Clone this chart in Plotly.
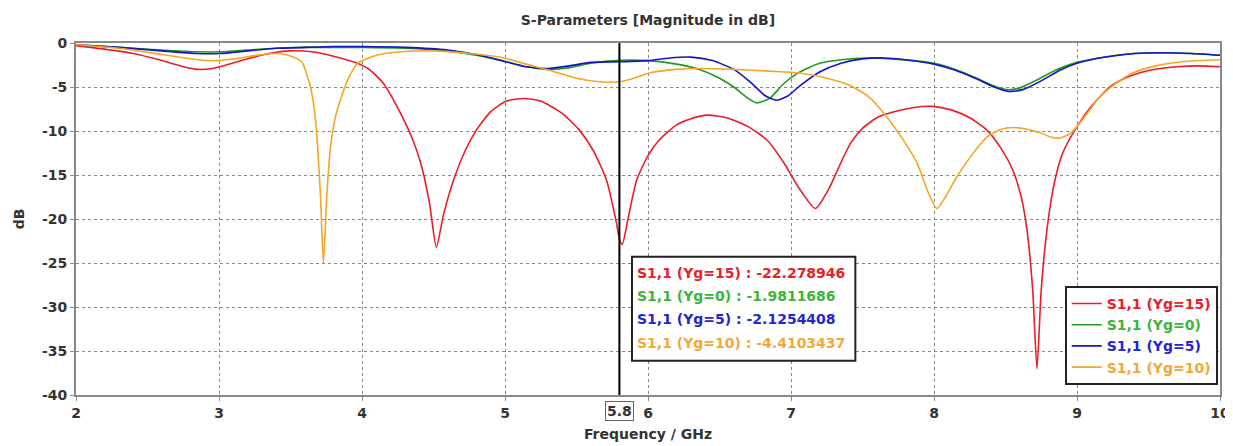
import plotly.graph_objects as go

# ---------------- data ----------------
freq_yg15 = [2.0, 2.2, 2.4, 2.6, 2.75, 2.85, 2.95, 3.05, 3.2, 3.35, 3.5, 3.65, 3.8, 3.95, 4.05, 4.15,
             4.27, 4.35, 4.41, 4.47, 4.52, 4.57, 4.64, 4.72, 4.80, 4.90, 5.01, 5.13, 5.25, 5.4, 5.52,
             5.62, 5.71, 5.78, 5.80, 5.82, 5.86, 5.92, 6.0, 6.08, 6.2, 6.3, 6.42, 6.55, 6.7, 6.83,
             6.95, 7.06, 7.17, 7.27, 7.34, 7.42, 7.5, 7.6, 7.7, 7.85, 7.99, 8.12, 8.25,
             8.37, 8.47, 8.55, 8.61, 8.65, 8.69, 8.72, 8.75, 8.79, 8.84, 8.90, 9.0, 9.1, 9.23, 9.35,
             9.51, 9.7, 9.85, 10.0]
s11_yg15 = [-0.3, -0.7, -1.2, -2.0, -2.7, -3.0, -2.9, -2.5, -1.8, -1.2, -0.9, -1.0, -1.5, -2.2, -3.0, -4.6,
            -8.0, -10.8, -13.6, -18.0, -23.2, -19.5, -15.6, -12.3, -9.9, -7.8, -6.6, -6.3, -6.6, -8.0, -9.9,
            -12.3, -15.6, -20.5, -22.28, -22.9, -20.0, -15.6, -12.8, -11.0, -9.3, -8.6, -8.2, -8.5, -9.5, -11.0,
            -13.6, -16.6, -18.8, -16.4, -13.9, -11.3, -9.7, -8.5, -7.9, -7.35, -7.2, -7.6, -8.5,
            -9.9, -12.0, -14.4, -17.5, -21.2, -28.0, -37.0, -28.0, -21.2, -16.0, -12.5, -9.5, -7.2, -5.0, -3.9,
            -3.1, -2.7, -2.6, -2.7]

freq_yg0 = [2.0, 2.3, 2.6, 2.85, 3.0, 3.2, 3.4, 3.6, 3.8, 4.0, 4.3, 4.6, 4.8, 5.0, 5.15, 5.3, 5.45, 5.6,
            5.8, 6.0, 6.2, 6.36, 6.5, 6.6, 6.7, 6.76, 6.85, 6.95, 7.05, 7.2, 7.35, 7.53, 7.7, 7.85, 8.0,
            8.15, 8.3, 8.42, 8.51, 8.6, 8.72, 8.85, 9.0, 9.2, 9.4, 9.6, 9.8, 10.0]
s11_yg0 = [-0.2, -0.5, -0.8, -1.0, -1.0, -0.8, -0.6, -0.5, -0.5, -0.5, -0.6, -0.9, -1.4, -2.1, -2.7, -3.0,
           -2.8, -2.3, -1.98, -2.0, -2.4, -3.0, -4.0, -5.0, -6.3, -6.8, -6.3, -4.6, -3.4, -2.3, -1.9, -1.7,
           -1.8, -2.0, -2.3, -3.0, -4.0, -4.9, -5.3, -5.1, -4.2, -3.1, -2.2, -1.6, -1.2, -1.1, -1.2, -1.4]

freq_yg5 = [2.0, 2.3, 2.6, 2.85, 3.0, 3.2, 3.4, 3.6, 3.8, 4.0, 4.3, 4.6, 4.8, 5.0, 5.15, 5.3, 5.45, 5.6,
            5.8, 6.0, 6.15, 6.3, 6.45, 6.6, 6.72, 6.82, 6.9, 6.98, 7.06, 7.2, 7.35, 7.5, 7.65, 7.8, 8.0,
            8.15, 8.3, 8.42, 8.52, 8.62, 8.75, 8.88, 9.0, 9.2, 9.4, 9.6, 9.8, 10.0]
s11_yg5 = [-0.2, -0.5, -0.9, -1.2, -1.2, -0.9, -0.6, -0.5, -0.4, -0.4, -0.5, -0.8, -1.3, -2.1, -2.7, -2.9,
           -2.6, -2.2, -2.13, -2.0, -1.7, -1.6, -2.0, -3.0, -4.5, -6.0, -6.5, -6.0, -4.9, -3.3, -2.3, -1.8,
           -1.7, -1.9, -2.4, -3.1, -4.1, -5.0, -5.5, -5.3, -4.3, -3.1, -2.3, -1.6, -1.2, -1.1, -1.2, -1.4]

freq_yg10 = [2.0, 2.3, 2.6, 2.85, 3.0, 3.15, 3.3, 3.42, 3.52, 3.58, 3.64, 3.67, 3.69, 3.71, 3.73, 3.755,
             3.78, 3.82, 3.9, 3.97, 4.1, 4.27, 4.5, 4.75, 4.96, 5.15, 5.31, 5.5, 5.66, 5.8, 5.9, 6.01,
             6.2, 6.36, 6.6, 6.85, 7.06, 7.25, 7.41, 7.55, 7.67, 7.78, 7.88, 7.96, 8.02, 8.08, 8.16, 8.27,
             8.37, 8.47, 8.55, 8.65, 8.74, 8.82, 8.88, 8.95, 9.0, 9.08, 9.16, 9.28, 9.39, 9.55, 9.75, 10.0]
s11_yg10 = [-0.2, -0.6, -1.3, -1.9, -2.0, -1.7, -1.3, -1.2, -1.6, -2.2, -5.0, -8.0, -11.8, -17.5, -25.0, -17.0,
            -11.8, -8.0, -4.2, -2.3, -1.4, -1.0, -0.9, -1.2, -1.6, -2.4, -3.1, -4.0, -4.4, -4.41, -4.0, -3.4,
            -3.0, -2.9, -3.0, -3.2, -3.4, -4.0, -4.8, -6.2, -8.4, -10.9, -13.6, -17.0, -18.8, -17.5, -15.2, -12.6,
            -10.7, -9.8, -9.6, -9.8, -10.2, -10.7, -10.8, -10.3, -9.5, -7.8, -6.1, -4.5, -3.4, -2.6, -2.1, -1.9]

series_names = ["S1,1 (Yg=15)", "S1,1 (Yg=0)", "S1,1 (Yg=5)", "S1,1 (Yg=10)"]
marker_freq = 5.8
marker_values = ["-22.278946", "-1.9811686", "-2.1254408", "-4.4103437"]

x_ticks = [2, 3, 4, 5, 6, 7, 8, 9, 10]
y_ticks = [0, -5, -10, -15, -20, -25, -30, -35, -40]
y_tick_text = ["0", "-5", "-10", "-15", "-20", "-25", "-30", "-35", "-40"]

line_colors = ["#ee1c25", "#1f9a1f", "#1414c8", "#f5a623"]
text_colors = ["#e8202a", "#3cb43c", "#2424d2", "#f2a838"]

FONT = "DejaVu Sans"
FS = 14

# ---------------- figure ----------------
fig = go.Figure()
xs = [freq_yg15, freq_yg0, freq_yg5, freq_yg10]
ys = [s11_yg15, s11_yg0, s11_yg5, s11_yg10]
for name, x, y, lc, tc in zip(series_names, xs, ys, line_colors, text_colors):
    fig.add_trace(go.Scatter(
        x=x, y=y, mode="lines",
        name=f"<span style='color:{tc}'><b>{name}</b></span>",
        line=dict(color=lc, width=1.6, shape="spline", smoothing=0.6),
    ))

# marker line
fig.add_shape(type="line", xref="x", yref="paper", x0=marker_freq, x1=marker_freq, y0=0, y1=1,
              line=dict(color="black", width=2))

# marker value box (rectangle + lines of text)
box_x0, box_x1 = 5.888, 7.45
box_y0, box_y1 = -24.3, -36.1
fig.add_shape(type="rect", xref="x", yref="y", x0=box_x0, x1=box_x1, y0=box_y1, y1=box_y0,
              line=dict(color="#222222", width=2), fillcolor="white", layer="above")
for i, (name, val, tc) in enumerate(zip(series_names, marker_values, text_colors)):
    fig.add_annotation(xref="x", yref="y", x=box_x0, y=box_y0, xanchor="left", yanchor="middle",
                       xshift=3, yshift=-16 - 23.3 * i, showarrow=False,
                       text=f"<b>{name} : {val}</b>",
                       font=dict(family=FONT, size=FS, color=tc))

# boxed 5.8 label on x axis
fig.add_annotation(xref="x", yref="paper", x=marker_freq, y=0, yanchor="top", yshift=-6,
                   showarrow=False, text="<b>5.8</b>",
                   font=dict(family=FONT, size=FS, color="#333333"),
                   bordercolor="#666666", borderwidth=1, borderpad=1, bgcolor="white")

# the page has an 8px body margin, so the figure is sized to fit the 1233x446 window
fig.update_layout(
    width=1225, height=438,
    margin=dict(l=68, r=13, t=35, b=51),
    paper_bgcolor="white", plot_bgcolor="white",
    title=dict(text="<b>S-Parameters [Magnitude in dB]</b>", x=0.5224, xanchor="center",
               y=0.973, yanchor="middle", automargin=False,
               font=dict(family=FONT, size=FS, color="#333333")),
    font=dict(family=FONT, size=FS, color="#333333"),
    showlegend=True,
    legend=dict(x=0.998, xanchor="right", y=0.31, yanchor="top",
                bgcolor="white", bordercolor="#222222", borderwidth=2,
                font=dict(family=FONT, size=FS), tracegroupgap=0, itemwidth=30),
    xaxis=dict(range=[2, 10], tickvals=x_ticks, ticktext=[str(t) for t in x_ticks],
               automargin=False,
               showgrid=True, gridcolor="#888888", griddash="dot", gridwidth=1,
               showline=True, linecolor="#888888", linewidth=2, mirror=True,
               ticks="outside", ticklen=4, tickcolor="#888888", zeroline=False,
               tickfont=dict(family=FONT, size=FS, color="#333333", weight="bold"),
               title=dict(text="<b>Frequency / GHz</b>", standoff=9,
                          font=dict(family=FONT, size=FS, color="#333333"))),
    yaxis=dict(range=[-40, 0], tickvals=y_ticks, ticktext=y_tick_text,
               automargin=False,
               showgrid=True, gridcolor="#888888", griddash="dot", gridwidth=1,
               showline=True, linecolor="#888888", linewidth=2, mirror=True,
               ticks="outside", ticklen=4, tickcolor="#888888", zeroline=False,
               tickfont=dict(family=FONT, size=FS, color="#333333", weight="bold"),
               title=dict(text="<b>dB</b>", standoff=14,
                          font=dict(family=FONT, size=FS, color="#333333"))),
)

fig.write_html("out.html")
